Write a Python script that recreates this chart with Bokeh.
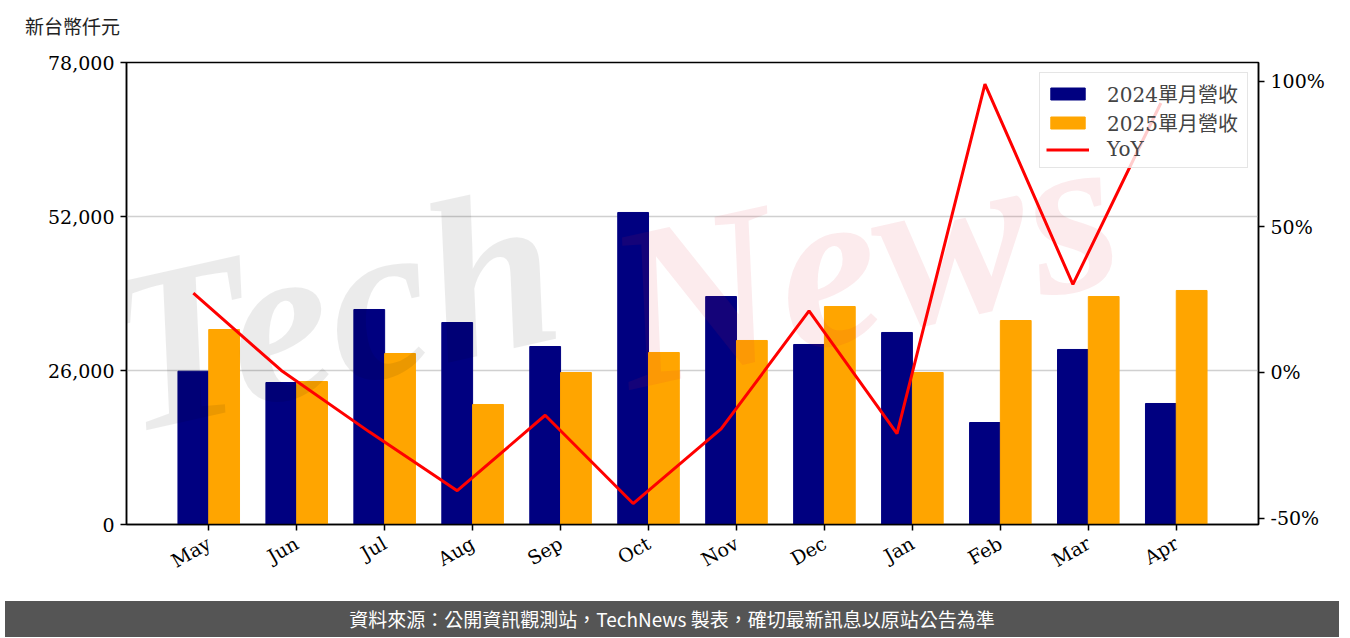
import math
from bokeh.plotting import figure
from bokeh.models import (Range1d, LinearAxis, FixedTicker, NumeralTickFormatter,
                          PrintfTickFormatter, Div, ColumnDataSource)
from bokeh.layouts import column
from bokeh.embed import file_html
from bokeh.resources import INLINE
from bokeh.core.properties import value

# ---- data ----
months = ["May", "Jun", "Jul", "Aug", "Sep", "Oct", "Nov", "Dec", "Jan", "Feb", "Mar", "Apr"]
rev_2024 = [25880, 23970, 36300, 34100, 30050, 52680, 38490, 30390, 32420, 17220, 29550, 20430]
rev_2025 = [32920, 24140, 28870, 20260, 25660, 29040, 31070, 36800, 25660, 34440, 38490, 39510]
yoy = [27.2, 0.7, -20.4, -40.6, -14.7, -45.0, -19.4, 21.1, -21.0, 99.0, 30.2, 92.5]
left_ticks = [0, 26000, 52000, 78000]
right_ticks = [-50, 0, 50, 100]
unit_label = "新台幣仟元"
legend_labels = ["2024單月營收", "2025單月營收", "YoY"]
footer_text = "資料來源：公開資訊觀測站，TechNews 製表，確切最新訊息以原站公告為準"

BW = 0.35
idx = list(range(len(months)))
src = ColumnDataSource(dict(
    x24=[i for i in idx],
    x25=[i + BW for i in idx],
    r24=rev_2024,
    r25=rev_2025,
    yoy=yoy,
))

SERIF = "DejaVu Serif, Noto Sans CJK TC"

W = 1334
TOP_H = 34            # header strip holding the unit label
PH = 552              # plot height
FH = 622 - TOP_H - PH # footer strip
FR_L, FR_R = 126, 1258
FR_T, FR_B = 18, 480  # frame top / bottom inside the plot canvas

header = Div(text=('<div style="padding:8px 0 0 20px;font-size:19px;line-height:26px;'
                   'color:#222222;font-family:\'Noto Sans CJK TC\';white-space:nowrap">'
                   + unit_label + '</div>'),
             width=W, height=TOP_H)

p = figure(width=W, height=PH, output_backend="svg", toolbar_location=None,
           x_range=Range1d(-0.76, 12.11), y_range=Range1d(0, 78000),
           min_border_left=FR_L, min_border_right=W - FR_R, min_border_top=FR_T,
           min_border_bottom=PH - FR_B)
p.extra_y_ranges = {"yoy": Range1d(-52.2, 106.4)}

p.outline_line_color = "black"
p.outline_line_width = 1.5
p.outline_line_alpha = 1.0
p.background_fill_color = "white"
p.border_fill_color = "white"

# grid
p.xgrid.visible = False
p.ygrid.ticker = FixedTicker(ticks=left_ticks)
p.ygrid.grid_line_color = "#d0d0d0"
p.ygrid.grid_line_width = 1.5

# bars
p.vbar(x="x24", top="r24", width=BW, source=src, color="#000080",
       legend_label=legend_labels[0])
p.vbar(x="x25", top="r25", width=BW, source=src, color="#ffa500",
       legend_label=legend_labels[1])

# watermark
p.text(x=[-0.62], y=[7000], text=["Tech"], angle=0.22, text_font_size="230px",
       text_font=value("Liberation Serif"), text_font_style="bold italic",
       text_color="#000000", text_alpha=0.08)
p.text(x=[5.1], y=[14500], text=["News"], angle=0.22, text_font_size="230px",
       text_font=value("Liberation Serif"), text_font_style="bold italic",
       text_color="#dd2233", text_alpha=0.09)

# YoY line
p.line(x="x24", y="yoy", source=src, y_range_name="yoy", line_color="red",
       line_width=3, legend_label=legend_labels[2])

# axes styling
def style_axis(ax):
    ax.axis_line_color = "black"
    ax.axis_line_width = 1.5
    ax.major_tick_line_color = "black"
    ax.major_tick_line_width = 1.5
    ax.major_tick_out = 6
    ax.major_tick_in = 0
    ax.minor_tick_line_color = None
    ax.major_label_text_font = SERIF
    ax.major_label_text_font_size = "19px"
    ax.major_label_text_color = "black"
    ax.major_label_standoff = 6

xa = p.xaxis[0]
xa.ticker = FixedTicker(ticks=[i + BW / 2 for i in idx])
xa.major_label_overrides = {i + BW / 2: m for i, m in zip(idx, months)}
style_axis(xa)
xa.major_label_orientation = math.pi / 6
xa.major_label_standoff = 11

ya = p.yaxis[0]
ya.ticker = FixedTicker(ticks=left_ticks)
ya.formatter = NumeralTickFormatter(format="0,0")
style_axis(ya)

ra = LinearAxis(y_range_name="yoy", ticker=FixedTicker(ticks=right_ticks),
                formatter=PrintfTickFormatter(format="%d%%"))
style_axis(ra)
p.add_layout(ra, "right")

# legend
lg = p.legend[0]
lg.location = "top_right"
lg.margin = 10
lg.padding = 6
lg.spacing = 0
lg.glyph_width = 43
lg.glyph_height = 15
lg.label_height = 20
lg.label_width = 134
lg.label_standoff = 18
lg.label_text_font = SERIF
lg.label_text_font_size = "20px"
lg.border_line_color = "#cccccc"
lg.border_line_width = 1.5
lg.background_fill_alpha = 0.8

footer = Div(text=footer_text, width=W, height=FH,
             styles={"background-color": "#555555", "color": "white",
                     "text-align": "center", "font-size": "19px",
                     "line-height": f"{FH}px",
                     "font-family": "Noto Sans CJK TC"})

layout = column(header, p, footer, spacing=0)
open("out.html", "w").write(file_html(layout, INLINE))
